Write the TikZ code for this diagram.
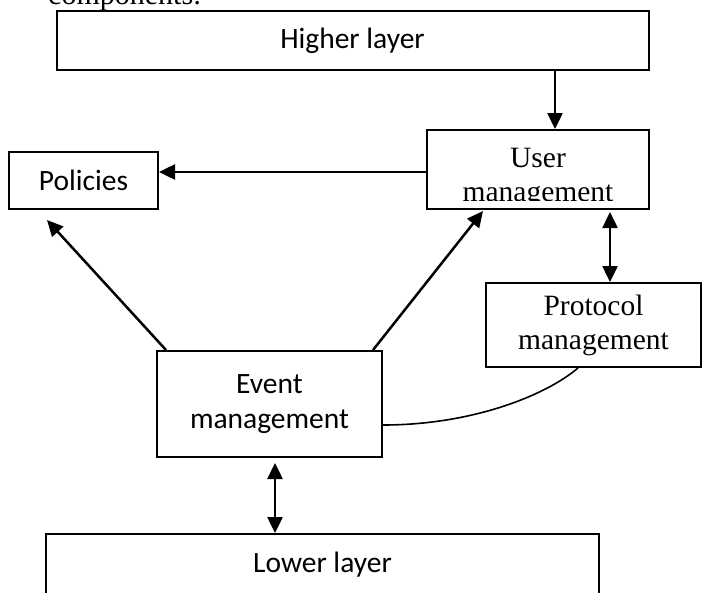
\documentclass[tikz,border=0pt]{standalone}
\usepackage{fontspec}
\setmainfont{Liberation Serif}
\newfontfamily\calibrifont{Carlito}
\usetikzlibrary{positioning,arrows.meta}

\begin{document}
\begin{tikzpicture}[
x=1pt, y=-1pt,
box/.style={draw, rectangle, line width=2pt, inner sep=0pt, align=center},
sanstext/.style={font=\calibrifont\fontsize{29.5}{35}\selectfont},
seriftext/.style={font=\fontsize{29.5}{34}\selectfont},
arr/.style={line width=2.5pt, -{Triangle[length=16pt,width=15pt]}},
dbl/.style={line width=2.5pt, {Triangle[length=16pt,width=15pt]}-{Triangle[length=16pt,width=15pt]}}]

\useasboundingbox (0,0) rectangle (703,592);

\node[font=\fontsize{30}{36}\selectfont, anchor=base west, inner sep=0pt] (caption) at (48,4) {components:};

\node[box, sanstext, minimum width=592pt, minimum height=59pt] (higher) at (352.5,40.5) {Higher layer};
\node[box, minimum width=222pt, minimum height=79pt] (user) at (538,169.5) {};
\node[box, sanstext, minimum width=149pt, minimum height=57pt] (policies) at (83.5,180.5) {Policies};
\node[box, seriftext, minimum width=215pt, minimum height=84pt] (protocol) at (593.5,325) {Protocol\\management};
\node[box, sanstext, minimum width=225pt, minimum height=106pt] (event) at (269.5,404) {Event\\management};
\node[box, sanstext, minimum width=553pt, minimum height=62pt] (lower) at (322.5,565) {Lower layer};

\begin{scope}
\clip (user.north west) rectangle ([yshift=10pt]user.south east);
\node[seriftext, anchor=base] (usertop) at (538,167) {User};
\node[seriftext, anchor=base] (userbottom) at (538,201) {management};
\end{scope}

\coordinate (hu) at ([xshift=17pt]user.north);
\draw[arr] (higher.south -| hu) -- (hu);

\coordinate (up) at ([yshift=-2.5pt]user.west);
\draw[arr] (up) -- (policies.east |- up);

\draw[arr] ([xshift=10pt]event.north west) -- ([xshift=39pt,yshift=-10pt]policies.south west);
\draw[arr] ([xshift=-10pt]event.north east) -- ([xshift=57pt,yshift=-1pt]user.south west);

\coordinate (up2) at ([xshift=72pt,yshift=-2pt]user.south);
\draw[dbl] (up2) -- (protocol.north -| up2);

\draw[line width=1.6pt] ([xshift=-15.5pt]protocol.south) .. controls +(-33,28) and +(88,0) .. ([yshift=-21pt]event.east);

\coordinate (el) at ([xshift=5.5pt,yshift=-5pt]event.south);
\draw[dbl] (el) -- (lower.north -| el);
\end{tikzpicture}
\end{document}
